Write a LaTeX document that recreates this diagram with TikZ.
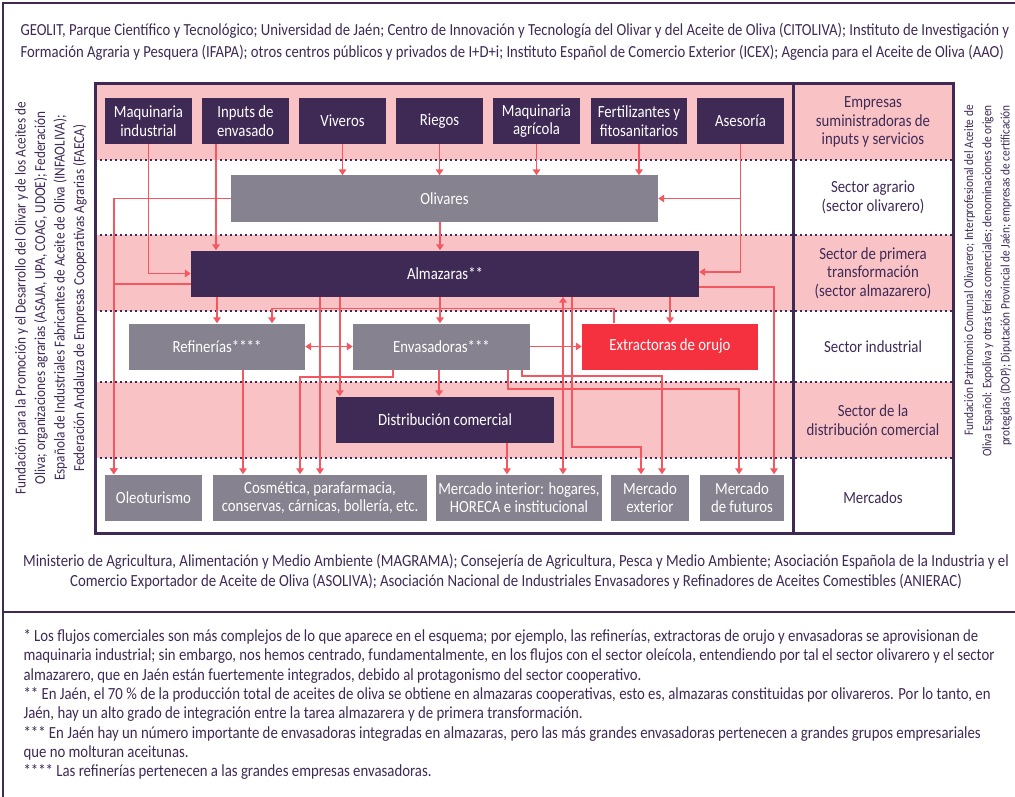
\documentclass[tikz,border=0pt]{standalone}
\usepackage{fontspec}
\setmainfont{Carlito}[FakeStretch=0.87]
\usetikzlibrary{arrows.meta}
\definecolor{morado}{HTML}{3F2A56}
\definecolor{grisbox}{HTML}{86828F}
\definecolor{rojobox}{HTML}{F5313F}
\definecolor{rosa}{HTML}{F9C3C5}
\definecolor{flecha}{HTML}{F4575F}
\begin{document}
\begin{tikzpicture}[x=1pt, y=-1pt,
	caja/.style={minimum height=46, inner sep=2, align=center, text=white, font=\fontsize{17}{18.5}\selectfont},
	oscura/.style={caja, fill=morado},
	gris/.style={caja, fill=grisbox},
	roja/.style={caja, fill=rojobox},
	etiqueta/.style={align=center, text=morado, font=\fontsize{17}{18.5}\selectfont},
	flujo/.style={draw=flecha, line width=1.6, -{Triangle[length=6pt,width=7.5pt]}},
	flujodoble/.style={flujo, {Triangle[length=6pt,width=7.5pt]}-{Triangle[length=6pt,width=7.5pt]}},
	puntos/.style={morado, line width=1.8, dash pattern=on 1.8pt off 3.2pt},
	marco/.style={morado, line width=2.5}]
	\useasboundingbox (0,0) rectangle (1015,797);
	\fill[white] (0,0) rectangle (1015,797);
	\draw[marco] (1030,3) -- (3,3) -- (3,810);
	\draw[marco] (3,612) -- (1030,612);
	\fill[rosa] (95,84) rectangle (953,160);
	\fill[rosa] (95,235) rectangle (953,311);
	\fill[rosa] (95,382) rectangle (953,458);
	\foreach \y in {160,235,311,382,458}
		\draw[puntos] (95,\y) -- (953,\y);
	\draw[marco, line width=3] (95,84) rectangle (953,533);
	\draw[marco, line width=3] (793,84) -- (793,533);

	\node[anchor=west, align=left, text=morado, font=\fontsize{16.9}{22}\selectfont] (organismos) at (17,42) {GEOLIT, Parque Científico y Tecnológico; Universidad de Jaén; Centro de Innovación y Tecnología del Olivar y del Aceite de Oliva (CITOLIVA); Instituto de Investigación y\\Formación Agraria y Pesquera (IFAPA); otros centros públicos y privados de I+D+i; Instituto Español de Comercio Exterior (ICEX); Agencia para el Aceite de Oliva (AAO)};
	\node[rotate=90, align=center, text=morado, font=\fontsize{15.2}{19.5}\selectfont] (asociaciones) at (51,298) {Fundación para la Promoción y el Desarrollo del Olivar y de los Aceites de\\Oliva; organizaciones agrarias (ASAJA, UPA, COAG, UDOE); Federación\\Española de Industriales Fabricantes de Aceite de Oliva (INFAOLIVA);\\Federación Andaluza de Empresas Cooperativas Agrarias (FAECA)};
	\node[rotate=90, align=right, text=morado, font=\fontsize{13}{18.3}\selectfont] (interprof) at (988,281) {Fundación Patrimonio Comunal Olivarero; Interprofesional del Aceite de\\Oliva Español: Expoliva y otras ferias comerciales; denominaciones de origen\\protegidas (DOP); Diputación Provincial de Jaén; empresas de certificación};
	\node[align=center, text=morado, font=\fontsize{17}{20}\selectfont] (ministerios) at (516,572) {Ministerio de Agricultura, Alimentación y Medio Ambiente (MAGRAMA); Consejería de Agricultura, Pesca y Medio Ambiente; Asociación Española de la Industria y el\\Comercio Exportador de Aceite de Oliva (ASOLIVA); Asociación Nacional de Industriales Envasadores y Refinadores de Aceites Comestibles (ANIERAC)};
	\node[anchor=west, align=left, text=morado, font=\fontsize{17}{19.3}\selectfont] (notas) at (20,704.5) {* Los flujos comerciales son más complejos de lo que aparece en el esquema; por ejemplo, las refinerías, extractoras de orujo y envasadoras se aprovisionan de\\maquinaria industrial; sin embargo, nos hemos centrado, fundamentalmente, en los flujos con el sector oleícola, entendiendo por tal el sector olivarero y el sector\\almazarero, que en Jaén están fuertemente integrados, debido al protagonismo del sector cooperativo.\\** En Jaén, el 70 \% de la producción total de aceites de oliva se obtiene en almazaras cooperativas, esto es, almazaras constituidas por olivareros. Por lo tanto, en\\Jaén, hay un alto grado de integración entre la tarea almazarera y de primera transformación.\\*** En Jaén hay un número importante de envasadoras integradas en almazaras, pero las más grandes envasadoras pertenecen a grandes grupos empresariales\\que no molturan aceitunas.\\**** Las refinerías pertenecen a las grandes empresas envasadoras.};

	\node[etiqueta] (fila1) at (873,122) {Empresas\\suministradoras de\\inputs y servicios};
	\node[etiqueta] (fila2) at (873,197.5) {Sector agrario\\(sector olivarero)};
	\node[etiqueta] (fila3) at (873,273) {Sector de primera\\transformación\\(sector almazarero)};
	\node[etiqueta] (fila4) at (873,346.5) {Sector industrial};
	\node[etiqueta] (fila5) at (873,420) {Sector de la\\distribución comercial};
	\node[etiqueta] (fila6) at (873,497.5) {Mercados};

	\node[oscura, minimum width=87] (maqind) at (148.5,121) {Maquinaria\\industrial};
	\node[oscura, minimum width=87] (inputs) at (245.5,121) {Inputs de\\envasado};
	\node[oscura, minimum width=87] (viveros) at (342.5,121) {Viveros};
	\node[oscura, minimum width=87] (riegos) at (439.5,121) {Riegos};
	\node[oscura, minimum width=87] (maqagr) at (536.5,121) {Maquinaria\\agrícola};
	\node[oscura, minimum width=96] (fert) at (639,121) {Fertilizantes y\\fitosanitarios};
	\node[oscura, minimum width=87] (asesoria) at (740.5,121) {Asesoría};
	\node[gris, minimum width=427] (olivares) at (444.5,198.5) {Olivares};
	\node[oscura, minimum width=508] (almazaras) at (445,273.5) {Almazaras**};
	\node[gris, minimum width=176] (refinerias) at (217,346.5) {Refinerías****};
	\node[gris, minimum width=177] (envasadoras) at (441.5,346.5) {Envasadoras***};
	\node[roja, minimum width=176] (extractoras) at (670,346.5) {Extractoras de orujo};
	\node[oscura, minimum width=218] (distribucion) at (445,419.5) {Distribución comercial};
	\node[gris, minimum width=97] (oleo) at (153.5,497.5) {Oleoturismo};
	\node[gris, minimum width=214] (cosmetica) at (320,497.5) {Cosmética, parafarmacia,\\conservas, cárnicas, bollería, etc.};
	\node[gris, minimum width=162] (mercint) at (519,497.5) {Mercado interior: hogares,\\HORECA e institucional};
	\node[gris, minimum width=78] (mercext) at (650,497.5) {Mercado\\exterior};
	\node[gris, minimum width=84] (futuros) at (742,497.5) {Mercado\\de futuros};

	\draw[flujo] (maqind.south) |- (almazaras.west);
	\draw[flujo] ([xshift=-29.5]inputs.south) -- ([xshift=-29.5]inputs.south |- almazaras.north);
	\foreach \n in {viveros,riegos,maqagr,fert}
		\draw[flujo] (\n.south) -- (\n.south |- olivares.north);
	\draw[flujo] (asesoria.south) |- (olivares.east);
	\draw[flujo] (asesoria.south) |- ([yshift=1.5]almazaras.east);
	\draw[flujo] ([xshift=-4.5]olivares.south) -- ([xshift=-4.5]olivares.south |- almazaras.north);
	\draw[flujo] (olivares.west) -| ([xshift=9]oleo.north west);
	\draw[flujo] ([yshift=-10.5]almazaras.west) -| ([xshift=9]oleo.north west);
	\draw[flujo] (refinerias.north |- almazaras.south) -- (refinerias.north);
	\draw[flujo] ([xshift=-1.5]envasadoras.north |- almazaras.south) -- ([xshift=-1.5]envasadoras.north);
	\draw[flujo] (extractoras.north |- almazaras.south) -- (extractoras.north);
	\draw[flujo] (cosmetica.north |- almazaras.south) -- (cosmetica.north);
	\draw[flujo] ([xshift=4]distribucion.north west |- almazaras.south) -- ([xshift=4]distribucion.north west);
	\draw[flujodoble] ([xshift=44]mercint.north |- almazaras.south) -- ([xshift=44]mercint.north);
	\draw[flujo] ([xshift=127]almazaras.south) -- ++(0,150) -| ([xshift=-9]mercext.north);
	\draw[flujo] ([yshift=-13.5]almazaras.east) -| ([xshift=32]futuros.north);
	\draw[flujo] ([xshift=-56]extractoras.north) -- ++(0,-15) -| ([xshift=55]refinerias.north);
	\draw[flujodoble] (refinerias.east) -- (envasadoras.west);
	\draw[flujo] (envasadoras.east) -- (extractoras.west);
	\draw[flujo] ([xshift=26]refinerias.south) -- ([xshift=26]refinerias.south |- cosmetica.north);
	\draw[flujo] ([xshift=-48.5]envasadoras.south) -- ++(0,7) -| ([xshift=-20]cosmetica.north);
	\draw[flujo] ([xshift=-2.5]envasadoras.south) -- ([xshift=-2.5]envasadoras.south |- distribucion.north);
	\draw[flujo] ([xshift=66.5]envasadoras.south) -- ++(0,19) -| ([xshift=-3]futuros.north);
	\draw[flujo] ([xshift=80.5]envasadoras.south) -- ++(0,6.5) -| ([xshift=12]mercext.north);
	\draw[flujo] ([xshift=62]distribucion.south) -- ([xshift=62]distribucion.south |- mercint.north);
\end{tikzpicture}
\end{document}
